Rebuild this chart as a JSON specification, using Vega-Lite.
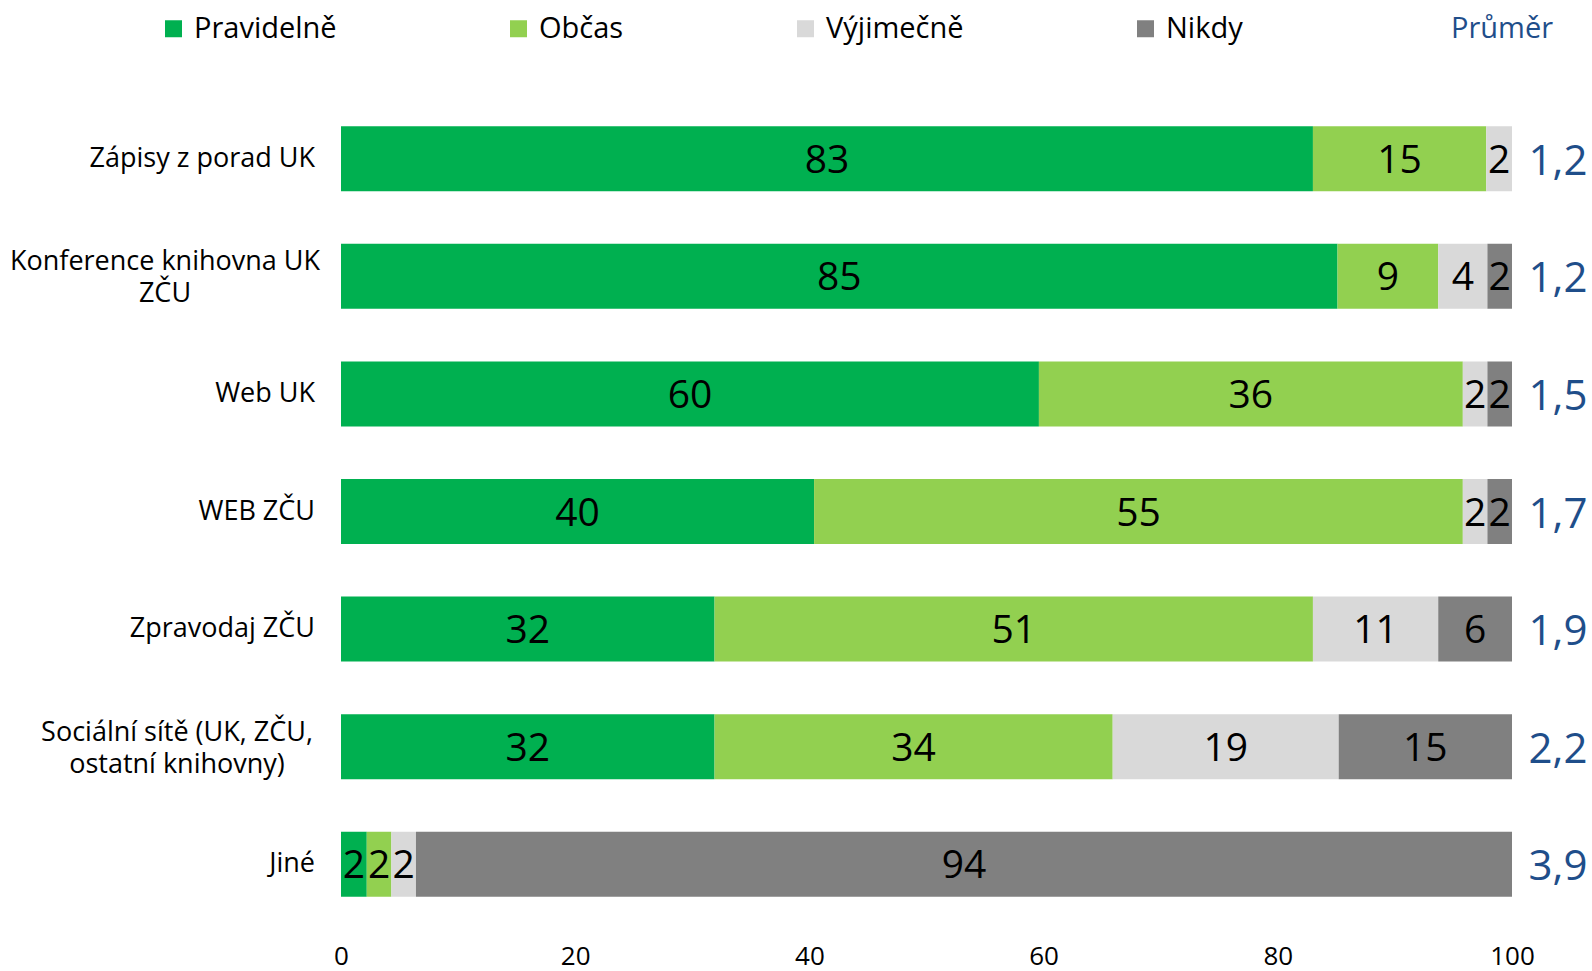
{
  "$schema": "https://vega.github.io/schema/vega-lite/v6.json",
  "width": 1171,
  "height": 823,
  "autosize": {"type": "none"},
  "padding": {"left": 341, "top": 100, "right": 80, "bottom": 48},
  "background": "white",
  "config": {
    "font": "Open Sans",
    "view": {"stroke": null},
    "locale": {"number": {"decimal": ",", "thousands": "\u00a0", "grouping": [3], "currency": ["", "\u00a0Kč"]}}
  },
  "datasets": {
    "shares": [
      {"cat": "Zápisy z porad UK", "resp": "Pravidelně", "ord": 1, "value": 83.0},
      {"cat": "Zápisy z porad UK", "resp": "Občas", "ord": 2, "value": 14.8},
      {"cat": "Zápisy z porad UK", "resp": "Výjimečně", "ord": 3, "value": 2.2},
      {"cat": "Konference knihovna UK\nZČU", "resp": "Pravidelně", "ord": 1, "value": 85.1},
      {"cat": "Konference knihovna UK\nZČU", "resp": "Občas", "ord": 2, "value": 8.6},
      {"cat": "Konference knihovna UK\nZČU", "resp": "Výjimečně", "ord": 3, "value": 4.2},
      {"cat": "Konference knihovna UK\nZČU", "resp": "Nikdy", "ord": 4, "value": 2.1},
      {"cat": "Web UK", "resp": "Pravidelně", "ord": 1, "value": 59.6},
      {"cat": "Web UK", "resp": "Občas", "ord": 2, "value": 36.2},
      {"cat": "Web UK", "resp": "Výjimečně", "ord": 3, "value": 2.1},
      {"cat": "Web UK", "resp": "Nikdy", "ord": 4, "value": 2.1},
      {"cat": "WEB ZČU", "resp": "Pravidelně", "ord": 1, "value": 40.4},
      {"cat": "WEB ZČU", "resp": "Občas", "ord": 2, "value": 55.4},
      {"cat": "WEB ZČU", "resp": "Výjimečně", "ord": 3, "value": 2.1},
      {"cat": "WEB ZČU", "resp": "Nikdy", "ord": 4, "value": 2.1},
      {"cat": "Zpravodaj ZČU", "resp": "Pravidelně", "ord": 1, "value": 31.9},
      {"cat": "Zpravodaj ZČU", "resp": "Občas", "ord": 2, "value": 51.1},
      {"cat": "Zpravodaj ZČU", "resp": "Výjimečně", "ord": 3, "value": 10.7},
      {"cat": "Zpravodaj ZČU", "resp": "Nikdy", "ord": 4, "value": 6.3},
      {"cat": "Sociální sítě (UK, ZČU,\nostatní knihovny)", "resp": "Pravidelně", "ord": 1, "value": 31.9},
      {"cat": "Sociální sítě (UK, ZČU,\nostatní knihovny)", "resp": "Občas", "ord": 2, "value": 34.0},
      {"cat": "Sociální sítě (UK, ZČU,\nostatní knihovny)", "resp": "Výjimečně", "ord": 3, "value": 19.3},
      {"cat": "Sociální sítě (UK, ZČU,\nostatní knihovny)", "resp": "Nikdy", "ord": 4, "value": 14.8},
      {"cat": "Jiné", "resp": "Pravidelně", "ord": 1, "value": 2.2},
      {"cat": "Jiné", "resp": "Občas", "ord": 2, "value": 2.1},
      {"cat": "Jiné", "resp": "Výjimečně", "ord": 3, "value": 2.1},
      {"cat": "Jiné", "resp": "Nikdy", "ord": 4, "value": 93.6}
    ],
    "cats": [
      {"cat": "Zápisy z porad UK", "lines": 1, "avg": 1.2},
      {"cat": "Konference knihovna UK\nZČU", "lines": 2, "avg": 1.2},
      {"cat": "Web UK", "lines": 1, "avg": 1.5},
      {"cat": "WEB ZČU", "lines": 1, "avg": 1.7},
      {"cat": "Zpravodaj ZČU", "lines": 1, "avg": 1.9},
      {"cat": "Sociální sítě (UK, ZČU,\nostatní knihovny)", "lines": 3, "avg": 2.2},
      {"cat": "Jiné", "lines": 1, "avg": 3.9}
    ]
  },
  "layer": [
    {
      "data": {"name": "shares"},
      "mark": {"type": "bar"},
      "encoding": {
        "y": {
          "field": "cat", "type": "nominal", "sort": null,
          "scale": {"paddingInner": 0.447, "paddingOuter": 0.2235},
          "axis": null
        },
        "x": {
          "field": "value", "type": "quantitative", "stack": "zero",
          "scale": {"domain": [0, 100], "nice": false},
          "axis": {
            "title": null, "ticks": false, "domain": false, "grid": false,
            "values": [0, 20, 40, 60, 80, 100], "format": "d", "labelFlush": false,
            "labelFontSize": 26, "labelColor": "black", "labelPadding": 20
          }
        },
        "color": {
          "field": "resp", "type": "nominal",
          "scale": {"domain": ["Pravidelně", "Občas", "Výjimečně", "Nikdy"], "range": ["#00B050", "#92D050", "#D9D9D9", "#808080"]},
          "legend": {
            "title": "Průměr", "orient": "none", "direction": "horizontal",
            "legendX": -182, "legendY": -86,
            "symbolType": "square", "symbolSize": 289, "symbolStrokeWidth": 0, "symbolOpacity": 1,
            "labelFontSize": 29, "labelColor": "black", "labelOffset": 6, "columnPadding": 167,
            "titleOrient": "right", "titleFontSize": 29, "titleFontWeight": "normal", "titleColor": "#1F4E8A",
            "titlePadding": 208, "titleBaseline": "middle", "titleAnchor": "middle"
          }
        },
        "order": {"field": "ord", "type": "quantitative"}
      }
    },
    {
      "data": {"name": "shares"},
      "mark": {"type": "text", "fontSize": 39, "color": "black", "baseline": "middle", "align": "center", "dy": 2},
      "encoding": {
        "y": {"field": "cat", "type": "nominal", "sort": null},
        "x": {"field": "value", "type": "quantitative", "stack": "zero", "bandPosition": 0.5},
        "detail": {"field": "resp"},
        "order": {"field": "ord", "type": "quantitative"},
        "text": {"field": "value", "type": "quantitative", "format": ".0f"}
      }
    },
    {
      "data": {"name": "cats"},
      "transform": [{"filter": "datum.lines == 1"}],
      "mark": {"type": "text", "fontSize": 27, "color": "black", "baseline": "middle", "align": "right", "dx": -26},
      "encoding": {
        "y": {"field": "cat", "type": "nominal", "sort": null},
        "x": {"datum": 0},
        "text": {"field": "cat"}
      }
    },
    {
      "data": {"name": "cats"},
      "transform": [{"filter": "datum.lines == 2"}],
      "mark": {"type": "text", "fontSize": 27, "color": "black", "baseline": "middle", "align": "center", "dx": -176, "dy": -14, "lineBreak": "\n", "lineHeight": 32},
      "encoding": {
        "y": {"field": "cat", "type": "nominal", "sort": null},
        "x": {"datum": 0},
        "text": {"field": "cat"}
      }
    },
    {
      "data": {"name": "cats"},
      "transform": [{"filter": "datum.lines == 3"}],
      "mark": {"type": "text", "fontSize": 27, "color": "black", "baseline": "middle", "align": "center", "dx": -164, "dy": -14, "lineBreak": "\n", "lineHeight": 32},
      "encoding": {
        "y": {"field": "cat", "type": "nominal", "sort": null},
        "x": {"datum": 0},
        "text": {"field": "cat"}
      }
    },
    {
      "data": {"name": "cats"},
      "mark": {"type": "text", "fontSize": 42, "color": "#1F4E8A", "baseline": "middle", "align": "center", "dx": 46, "dy": 3},
      "encoding": {
        "y": {"field": "cat", "type": "nominal", "sort": null},
        "x": {"datum": 100},
        "text": {"field": "avg", "type": "quantitative", "format": ".1f"}
      }
    }
  ]
}
